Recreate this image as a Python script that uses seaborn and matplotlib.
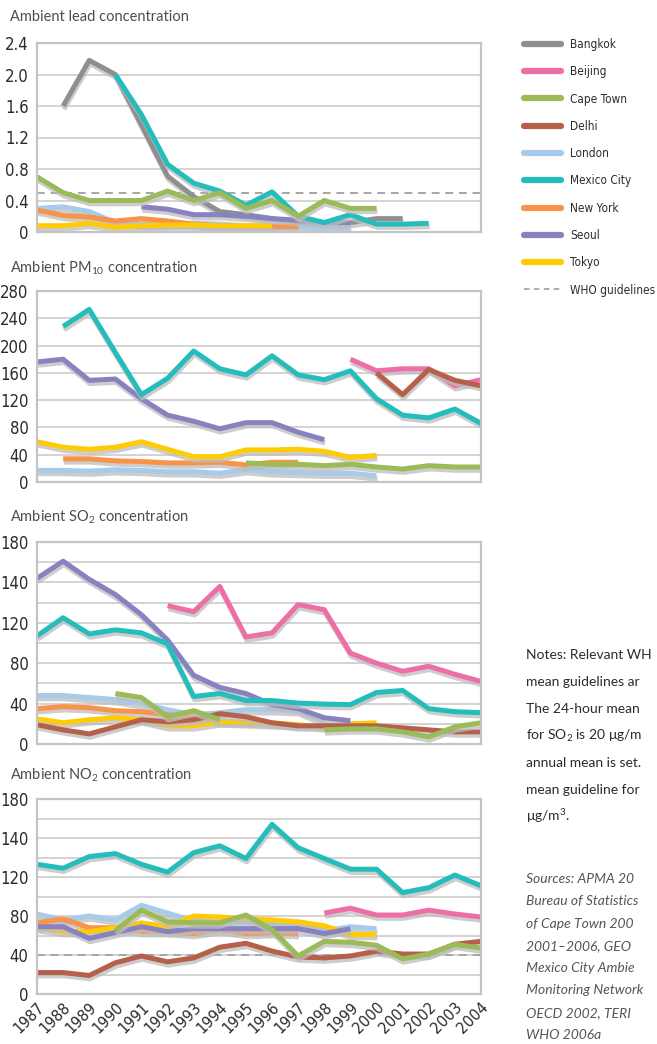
import numpy as np
import pandas as pd
import matplotlib.pyplot as plt
import matplotlib.patheffects as pe
from matplotlib.lines import Line2D
import seaborn as sns

nan = np.nan
years = list(range(1987, 2005))

cities = ['Bangkok', 'Beijing', 'Cape Town', 'Delhi', 'London',
          'Mexico City', 'New York', 'Seoul', 'Tokyo']
city_colors = ['#8f8f91', '#ee6fa6', '#9bbb59', '#b4604b', '#a8cbea',
               '#25bdbb', '#f7944a', '#8882c0', '#ffcb05']
# order the lines are painted in (later ones sit on top)
draw_order = ['Bangkok', 'London', 'New York', 'Tokyo', 'Seoul',
              'Mexico City', 'Beijing', 'Delhi', 'Cape Town']

# Ambient lead
lead_bangkok = [nan, 1.6, 2.18, 2.0, 1.36, 0.71, 0.45, 0.26, 0.22, 0.17, 0.13, 0.12, 0.12, 0.17, 0.17, nan, nan, nan]
lead_capetown = [0.7, 0.5, 0.4, 0.4, 0.4, 0.52, 0.4, 0.5, 0.3, 0.4, 0.2, 0.4, 0.3, 0.3, nan, nan, nan, nan]
lead_london = [0.3, 0.32, 0.26, 0.12, 0.1, 0.1, 0.11, 0.1, 0.08, 0.07, 0.06, 0.05, 0.05, nan, nan, nan, nan, nan]
lead_mexico = [nan, nan, nan, 2.0, 1.49, 0.86, 0.62, 0.52, 0.34, 0.51, 0.2, 0.12, 0.22, 0.1, 0.1, 0.11, nan, nan]
lead_newyork = [0.28, 0.21, 0.19, 0.14, 0.17, 0.14, 0.1, 0.08, 0.07, 0.07, 0.07, nan, nan, nan, nan, nan, nan, nan]
lead_seoul = [nan, nan, nan, nan, 0.32, 0.29, 0.22, 0.22, 0.2, 0.17, 0.15, 0.12, 0.12, nan, nan, nan, nan, nan]
lead_tokyo = [0.08, 0.08, 0.11, 0.06, 0.08, 0.09, 0.09, 0.08, 0.08, 0.08, nan, nan, nan, nan, nan, nan, nan, nan]
lead_who = 0.5

# Ambient PM10
pm_beijing = [nan] * 12 + [180, 163, 166, 166, 141, 150]
pm_capetown = [nan] * 8 + [28, 26, 26, 24, 26, 22, 19, 24, 22, 22]
pm_delhi = [nan] * 13 + [160, 128, 165, 149, 141]
pm_london = [17, 17, 16, 18, 17, 15, 15, 13, 18, 15, 14, 13, 13, 9, nan, nan, nan, nan]
pm_mexico = [nan, 228, 253, 190, 128, 152, 192, 166, 157, 185, 157, 150, 163, 122, 98, 94, 107, 86]
pm_newyork = [nan, 34, 34, 31, 30, 28, 28, 29, 25, 29, 29, nan, nan, nan, nan, nan, nan, nan]
pm_seoul = [176, 180, 149, 151, 122, 98, 89, 78, 87, 87, 73, 62, nan, nan, nan, nan, nan, nan]
pm_tokyo = [59, 51, 48, 51, 59, 48, 37, 37, 47, 47, 48, 45, 36, 39, nan, nan, nan, nan]

# Ambient SO2
so_beijing = [nan] * 5 + [137, 131, 156, 106, 110, 138, 133, 90, 80, 72, 77, 69, 62]
so_capetown = [nan, nan, nan, 50, 46, 27, 33, 24, nan, nan, nan, 14, 15, 15, 12, 7, 17, 21]
so_delhi = [19, 14, 10, 17, 24, 22, 24, 30, 27, 21, 18, 18, 18, 18, 16, 14, 12, 12]
so_london = [48, 48, 46, 44, 40, 34, 29, 31, 34, 34, 33, 22, nan, nan, nan, nan, nan, nan]
so_mexico = [107, 125, 109, 113, 110, 99, 47, 50, 43, 43, 40.5, 39.5, 39, 51, 53, 35, 32, 31]
so_newyork = [35, 37, 36, 33, 32, 29, 26, 22, 21, 20, 19, nan, nan, nan, nan, nan, nan, nan]
so_seoul = [164, 181, 163, 148, 128, 103, 68, 56, 50, 39, 35, 26, 23, nan, nan, nan, nan, nan]
so_tokyo = [25, 21, 24, 26, 24, 18, 18, 22, 22, 21, 19, 17, 20, 21, nan, nan, nan, nan]

# Ambient NO2
no_beijing = [nan] * 11 + [83, 88, 81, 81, 86, 82, 79]
no_capetown = [nan, nan, nan, 65, 86, 74, 73, 73, 81, 66, 39, 54, 53, 50, 36, 41, 51, 47]
no_delhi = [22, 22, 19, 32, 39, 33, 37, 48, 52, 44, 38, 37, 39, 44, 41, 41, 51, 54]
no_london = [82, 76, 80, 76, 91, 83, 75, 73, 73, 72, 71, 65, 69, 67, nan, nan, nan, nan]
no_mexico = [133, 129, 141, 144, 133, 125, 145, 152, 139, 174, 150, 139, 128, 128, 104, 109, 122, 111]
no_newyork = [73, 77, 68, 68, 64, 64, 62, 66, 62, 63, 62, nan, nan, nan, nan, nan, nan, nan]
no_seoul = [69, 69, 57, 63, 69, 64, 67, 67, 67, 67, 67, 62, 67, nan, nan, nan, nan, nan]
no_tokyo = [68, 64, 64, 68, 73, 69, 80, 79, 77, 76, 74, 70, 61, 61, nan, nan, nan, nan]
no_who = 40

lead_ticks = [0, 0.4, 0.8, 1.2, 1.6, 2.0, 2.4]
lead_labels = ['0', '0.4', '0.8', '1.2', '1.6', '2.0', '2.4']
pm_ticks = [0, 40, 80, 120, 160, 200, 240, 280]
pm_labels = ['0', '40', '80', '120', '160', '200', '240', '280']
# the original prints these labels on the SO2/NO2 axes
gas_ticks = [0, 40, 80, 120, 160, 200]
gas_labels = ['0', '40', '80', '120', '140', '180']

# only the part of the notes that shows inside the page
notes = ['Notes: Relevant WH',
         'mean guidelines ar',
         'The 24-hour mean',
         'for SO$_2$ is 20 μg/m',
         'annual mean is set.',
         'mean guideline for',
         'μg/m$^3$.']
sources = ['Sources: APMA 20',
           'Bureau of Statistics',
           'of Cape Town 200',
           '2001–2006, GEO',
           'Mexico City Ambie',
           'Monitoring Network',
           'OECD 2002, TERI',
           'WHO 2006a']


def to_long(series):
    # split each city's series at gaps so lines break there
    rows = []
    for city, vals in series.items():
        seg, prev = 0, False
        for yr, v in zip(years, vals):
            if np.isnan(v):
                if prev:
                    seg += 1
                prev = False
                continue
            rows.append((city, f'{city}-{seg}', yr, v))
            prev = True
    return pd.DataFrame(rows, columns=['city', 'seg', 'year', 'value'])


panels = [
    ('Ambient lead concentration',
     {'Bangkok': lead_bangkok, 'Cape Town': lead_capetown, 'London': lead_london,
      'Mexico City': lead_mexico, 'New York': lead_newyork, 'Seoul': lead_seoul,
      'Tokyo': lead_tokyo},
     (0, 2.4), lead_ticks, lead_labels, lead_ticks, lead_who, (43, 232), 17),
    ('Ambient PM$_{10}$ concentration',
     {'Beijing': pm_beijing, 'Cape Town': pm_capetown, 'Delhi': pm_delhi,
      'London': pm_london, 'Mexico City': pm_mexico, 'New York': pm_newyork,
      'Seoul': pm_seoul, 'Tokyo': pm_tokyo},
     (0, 280), pm_ticks, pm_labels, pm_ticks, None, (291, 482), 268),
    ('Ambient SO$_2$ concentration',
     {'Beijing': so_beijing, 'Cape Town': so_capetown, 'Delhi': so_delhi,
      'London': so_london, 'Mexico City': so_mexico, 'New York': so_newyork,
      'Seoul': so_seoul, 'Tokyo': so_tokyo},
     (0, 200), gas_ticks, gas_labels, list(range(0, 201, 20)), None, (542, 744), 517),
    ('Ambient NO$_2$ concentration',
     {'Beijing': no_beijing, 'Cape Town': no_capetown, 'Delhi': no_delhi,
      'London': no_london, 'Mexico City': no_mexico, 'New York': no_newyork,
      'Seoul': no_seoul, 'Tokyo': no_tokyo},
     (0, 200), gas_ticks, gas_labels, list(range(0, 201, 20)), no_who, (799, 994), 775),
]

sns.set_style('white')
plt.rcParams['font.family'] = ['Liberation Sans Narrow', 'DejaVu Sans']
plt.rcParams['font.stretch'] = 'condensed'
plt.rcParams['mathtext.default'] = 'regular'

W, H = 657, 1044
fig = plt.figure(figsize=(W / 100, H / 100), dpi=100)
palette = dict(zip(cities, city_colors))
shadow = [pe.SimpleLineShadow(offset=(0.6, -2.4), shadow_color='#bdbdbd', alpha=0.75),
          pe.Normal()]
title_font = ['Lato', 'DejaVu Sans']

for i, (title, series, ylim, ticks, labels, grid, who, (top, bot), ty) in enumerate(panels):
    ax = fig.add_axes([37 / W, 1 - bot / H, 444 / W, (bot - top) / H])
    df = to_long(series)
    order = [c for c in draw_order if c in series]
    sns.lineplot(data=df, x='year', y='value', hue='city', units='seg',
                 estimator=None, hue_order=order, palette=palette,
                 legend=False, lw=3.6, ax=ax)
    for line in ax.lines:
        line.set_path_effects(shadow)
        line.set_solid_capstyle('butt')
    if who is not None:
        ax.axhline(who, color='#a6a6a6', lw=1.4, ls=(0, (4, 3)), zorder=1.5)

    ax.set_xlim(1987, 2004)
    ax.set_ylim(*ylim)
    ax.set_yticks(ticks)
    ax.set_yticklabels(labels)
    ax.set_yticks(grid, minor=True)
    ax.grid(which='both', axis='y', color='#d0d0d0', lw=1.3)
    ax.grid(False, axis='x')
    ax.set_axisbelow(True)
    ax.tick_params(which='both', length=0, labelsize=12, labelcolor='#2b2b2b', pad=6)
    ax.set_xlabel('')
    ax.set_ylabel('')
    ax.set_xticks(years)
    if i == 3:
        ax.set_xticklabels([str(y) for y in years], rotation=45, ha='right',
                           va='top', rotation_mode='anchor', fontsize=11.5)
        ax.tick_params(axis='x', pad=4)
    else:
        ax.set_xticklabels([])
    for sp in ax.spines.values():
        sp.set_visible(True)
        sp.set_color('#c4c4c4')
        sp.set_linewidth(1.6)

    fig.text(10 / W, 1 - ty / H, title, ha='left', va='center',
             fontsize=10.5, color='#4d4d4d', family=title_font, stretch='normal')

handles = [Line2D([], [], color=c, lw=4.5) for c in city_colors]
handles.append(Line2D([], [], color='#a6a6a6', lw=1.3, ls=(0, (3, 2.5))))
fig.legend(handles, cities + ['WHO guidelines'], loc='upper left',
           bbox_to_anchor=(524 / W, 1 - 38 / H), frameon=False, fontsize=8.5,
           borderpad=0, borderaxespad=0, handlelength=3.1, handletextpad=0.8,
           labelspacing=1.21, labelcolor='#2b2b2b')

for k, txt in enumerate(notes):
    fig.text(526 / W, 1 - (655 + k * 26.9) / H, txt, ha='left', va='center',
             fontsize=10, color='#2b2b2b', family=title_font, stretch='normal')

for k, txt in enumerate(sources):
    fig.text(526 / W, 1 - (879 + k * 22.3) / H, txt, ha='left', va='center',
             fontsize=10, color='#555555', style='italic', family=title_font,
             stretch='normal')

fig.savefig('out.png', dpi=100)
